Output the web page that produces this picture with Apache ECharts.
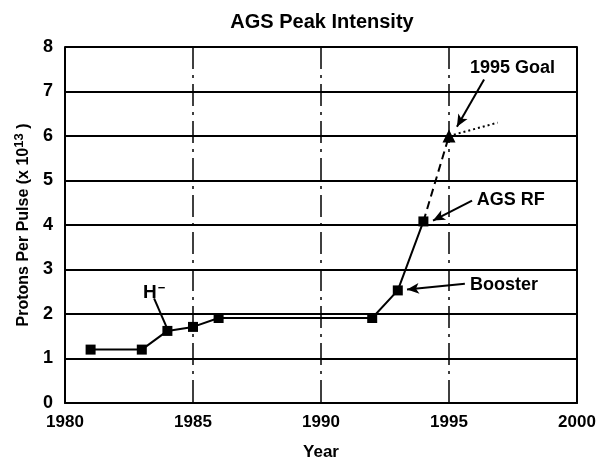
<!DOCTYPE html>
<html><head><meta charset="utf-8">
<script src="https://cdn.jsdelivr.net/npm/echarts@6/dist/echarts.min.js"></script>
<style>html,body{margin:0;padding:0;background:#fff}#c{width:603px;height:466px}</style>
</head><body><div id="c"></div>
<script>
// Data
var measured = [[1981,1.2],[1983,1.2],[1984,1.62],[1985,1.71],[1986,1.91],[1992,1.91],[1993,2.53],[1994,4.08]];
var projected = [[1994,4.08],[1995,6.0]];
var goal = [[1995,6.0]];
var beyond = [[1995,6.0],[1996.9,6.3]];
var xTicks = [1980,1985,1990,1995,2000];
var yTicks = [0,1,2,3,4,5,6,7,8];
var notes = [
  {text:'1995 Goal', at:[1995.82,7.52], from:[1996.37,7.27], to:[1995.31,6.21], arrow:true},
  {text:'AGS RF', at:[1996.08,4.55], from:[1995.90,4.55], to:[1994.375,4.10], arrow:true},
  {text:'Booster', at:[1995.82,2.66], from:[1995.62,2.68], to:[1993.36,2.55], arrow:true},
  {text:'{h|H}{s|\u2212}', at:[1983.05,2.47], from:[1983.48,2.35], to:[1983.98,1.69], arrow:false}
];

var FONT = "'Liberation Sans',Arial,sans-serif";
var chart = echarts.init(document.getElementById('c'), null, {renderer:'canvas'});
var markLines = notes.map(function(n){
  return [{coord:n.from, symbol:'none'},{coord:n.to, symbol: n.arrow ? 'arrow' : 'none', symbolSize:[8,12]}];
});
chart.setOption({
  animation:false,
  backgroundColor:'#fff',
  title:{text:'AGS Peak Intensity', left:317, top:7, textAlign:'center',
    textStyle:{fontFamily:FONT, fontWeight:'bold', fontSize:20, color:'#000'}},
  grid:{left:65, right:26, top:47, bottom:58},
  xAxis:{type:'value', min:xTicks[0], max:xTicks[xTicks.length-1], interval:5,
    name:'Year', nameLocation:'middle', nameGap:41,
    nameTextStyle:{fontFamily:FONT, fontWeight:'bold', fontSize:17, color:'#000'},
    axisLine:{lineStyle:{color:'#000', width:2}}, axisTick:{show:false},
    axisLabel:{fontFamily:FONT, fontWeight:'bold', fontSize:17, color:'#000', margin:11,
      formatter:function(v){return String(v);}},
    splitLine:{show:true, lineStyle:{color:'#000', width:1.5, type:[22,6,3,6]}}},
  yAxis:[{type:'value', min:yTicks[0], max:yTicks[yTicks.length-1], interval:1,
    name:'Protons Per Pulse (x 10{sup|13} )', nameLocation:'middle', nameGap:27, nameRotate:90,
    nameTextStyle:{fontFamily:FONT, fontWeight:'bold', fontSize:16, color:'#000',
      rich:{sup:{fontFamily:FONT, fontWeight:'bold', fontSize:13, color:'#000', verticalAlign:'bottom', padding:[0,0,9,0]}}},
    axisLine:{show:true, lineStyle:{color:'#000', width:2}}, axisTick:{show:false},
    axisLabel:{fontFamily:FONT, fontWeight:'bold', fontSize:18, color:'#000', margin:12},
    splitLine:{show:true, lineStyle:{color:'#000', width:1.8}}},
   {type:'value', min:0, max:8, interval:1, position:'right',
    axisLine:{show:true, lineStyle:{color:'#000', width:2}}, axisTick:{show:false},
    axisLabel:{show:false}, splitLine:{show:false}}],
  series:[
    {type:'line', data:measured, symbol:'rect', symbolSize:10, z:5,
     itemStyle:{color:'#000'}, lineStyle:{color:'#000', width:2}},
    {type:'line', data:projected, symbol:'none', lineStyle:{color:'#000', width:2, type:[8,5]}},
    {type:'line', data:beyond, symbol:'none', lineStyle:{color:'#000', width:2, type:[2,3]}},
    {type:'scatter', data:goal, symbol:'triangle', symbolSize:13, itemStyle:{color:'#000', opacity:1}, z:6},
    {type:'scatter', data:notes.map(function(n){return {value:n.at, name:n.text};}),
     symbolSize:0, silent:true,
     label:{show:true, position:'right', distance:0, formatter:function(p){return p.name;},
       fontFamily:FONT, fontWeight:'bold', fontSize:18, color:'#000', opacity:1,
       rich:{h:{fontFamily:FONT, fontWeight:'bold', fontSize:19, color:'#000'},
             s:{fontFamily:FONT, fontWeight:'bold', fontSize:13, color:'#000', verticalAlign:'top', padding:[0,0,10,1]}}},
     markLine:{silent:true, symbol:['none','arrow'], label:{show:false},
       lineStyle:{color:'#000', width:2, type:'solid'}, data:markLines}}
  ]
});
</script></body></html>
